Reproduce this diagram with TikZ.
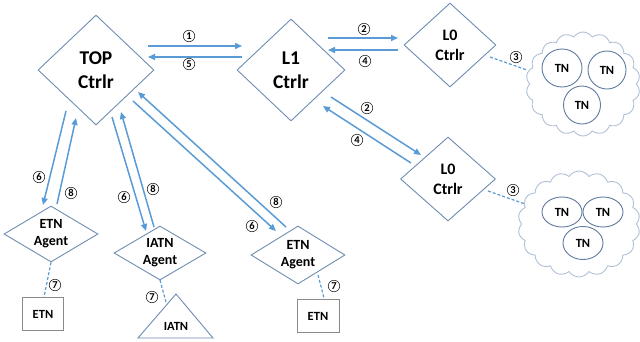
\documentclass[tikz,border=0pt]{standalone}
\usepackage{fontspec}
\setmainfont{Carlito}
\usetikzlibrary{shapes.geometric,shapes.symbols,arrows.meta}
\definecolor{diaC}{HTML}{6E8CB0}
\definecolor{arrC}{HTML}{5B9BD5}
\definecolor{cldC}{HTML}{B0C0D4}
\definecolor{ellC}{HTML}{5E7A9E}
\definecolor{boxC}{HTML}{8A8A8A}
\tikzset{
  dia/.style={diamond, draw=diaC, line width=0.9pt, inner sep=0pt, align=center},
  bigf/.style={font=\bfseries\fontsize{19.5}{24}\selectfont},
  midf/.style={font=\bfseries\fontsize{16}{20}\selectfont},
  agf/.style={font=\bfseries\fontsize{14}{17}\selectfont},
  smf/.style={font=\bfseries\fontsize{12.5}{14}\selectfont},
  arrow/.style={draw=arrC, line width=1.5pt, -{Triangle[length=7pt,width=6pt]}},
  dashln/.style={draw=arrC, line width=1.2pt, dash pattern=on 3pt off 2pt},
  num/.style={circle, draw=black!85, line width=0.6pt, minimum size=11.5pt, inner sep=0pt, font=\bfseries\fontsize{10.5}{10.5}\selectfont},
  tn/.style={ellipse, draw=ellC, line width=0.9pt, inner sep=0pt, smf},
  cld/.style={cloud, draw=cldC, line width=0.9pt, cloud puffs=18, cloud puff arc=115, cloud ignores aspect, inner sep=0pt},
  boxn/.style={rectangle, draw=boxC, line width=1pt, inner sep=0pt, smf}
}
\begin{document}
\begin{tikzpicture}[x=1pt,y=-1pt]
\useasboundingbox (0,0) rectangle (640,341);
% controllers
\node[dia, bigf, minimum width=116, minimum height=110, aspect=1.05] (top) at (96,70) {TOP\\Ctrlr};
\node[dia, bigf, minimum width=108, minimum height=102, aspect=1.06] (l1) at (291,70) {L1\\Ctrlr};
\node[dia, midf, minimum width=92, minimum height=84, aspect=1.1] (l0a) at (450,45) {L0\\Ctrlr};
\node[dia, midf, minimum width=95, minimum height=84, aspect=1.13] (l0b) at (448,179) {L0\\Ctrlr};
% agents
\node[dia, agf, minimum width=94, minimum height=56, aspect=1.68] (agL) at (51,234) {ETN\\Agent};
\node[dia, agf, minimum width=92, minimum height=54, aspect=1.7] (agI) at (160,253) {IATN\\Agent};
\node[dia, agf, minimum width=94, minimum height=58, aspect=1.62] (agR) at (298,255) {ETN\\Agent};
% end nodes
\node[boxn, minimum width=41, minimum height=33] (etnL) at (43,314) {ETN};
\node[boxn, minimum width=42, minimum height=33] (etnR) at (318,316) {ETN};
\coordinate (triA) at (176,294);
\coordinate (triB) at (138,338);
\coordinate (triC) at (213,338);
\draw[draw=diaC, line width=0.9pt] (triB) -- (triA) -- (triC) -- cycle;
\node[smf, inner sep=0pt] (iatn) at (176,326) {IATN};
% clouds
\node[cld, minimum width=114, minimum height=104] (c1) at (583,84) {};
\node[tn, minimum width=40, minimum height=38] (tn1) at (562,68) {TN};
\node[tn, minimum width=38, minimum height=38] (tn2) at (607,70) {TN};
\node[tn, minimum width=37, minimum height=38] (tn3) at (582,105) {TN};
\node[cld, minimum width=122, minimum height=106] (c2) at (579,224) {};
\node[tn, minimum width=40, minimum height=30] (tn4) at (562,212) {TN};
\node[tn, minimum width=40, minimum height=30] (tn5) at (603,212) {TN};
\node[tn, minimum width=40, minimum height=33] (tn6) at (583,243) {TN};
% arrow end coordinates
\coordinate (a1s) at (148,46); \coordinate (a1e) at (242,46);
\coordinate (a5s) at (242,57); \coordinate (a5e) at (148,57);
\coordinate (a2s) at (328,38); \coordinate (a2e) at (398,38);
\coordinate (a4s) at (398,50); \coordinate (a4e) at (328,50);
\coordinate (b2s) at (331,97); \coordinate (b2e) at (421,155);
\coordinate (b4s) at (411,163); \coordinate (b4e) at (323,106);
\coordinate (l6s) at (66,111); \coordinate (l6e) at (43,205);
\coordinate (l8s) at (57,204); \coordinate (l8e) at (76,118);
\coordinate (i6s) at (112,117); \coordinate (i6e) at (146,231);
\coordinate (i8s) at (154,227); \coordinate (i8e) at (121,112);
\coordinate (r6s) at (133,101); \coordinate (r6e) at (276,231);
\coordinate (r8s) at (286,227); \coordinate (r8e) at (138,92);
\coordinate (d3as) at (490,57); \coordinate (d3ae) at (527,70);
\coordinate (d3bs) at (488,191); \coordinate (d3be) at (525,204);
\coordinate (d7is) at (160,280); \coordinate (d7ie) at (166,302);
\coordinate (d7rs) at (318,275); \coordinate (d7re) at (324,298);
% arrows
\draw[arrow] (a1s) -- (a1e);
\draw[arrow] (a5s) -- (a5e);
\draw[arrow] (a2s) -- (a2e);
\draw[arrow] (a4s) -- (a4e);
\draw[arrow] (b2s) -- (b2e);
\draw[arrow] (b4s) -- (b4e);
\draw[arrow] (l6s) -- (l6e);
\draw[arrow] (l8s) -- (l8e);
\draw[arrow] (i6s) -- (i6e);
\draw[arrow] (i8s) -- (i8e);
\draw[arrow] (r6s) -- (r6e);
\draw[arrow] (r8s) -- (r8e);
% dashed
\draw[dashln] (d3as) -- (d3ae);
\draw[dashln] (d3bs) -- (d3be);
\draw[dashln] (agL.south) -- ([xshift=1pt]etnL.north);
\draw[dashln] (d7is) -- (d7ie);
\draw[dashln] (d7rs) -- (d7re);
% labels
\node[num] (n1) at (189,36) {1};
\node[num] (n5) at (189,64) {5};
\node[num] (n2a) at (364,29) {2};
\node[num] (n4a) at (365,61) {4};
\node[num] (n2b) at (367,108) {2};
\node[num] (n4b) at (357,140) {4};
\node[num] (n3a) at (516,57) {3};
\node[num] (n3b) at (513,190) {3};
\node[num] (n6l) at (39,177) {6};
\node[num] (n8l) at (71,193) {8};
\node[num] (n6i) at (124,197) {6};
\node[num] (n8i) at (153,189) {8};
\node[num] (n8r) at (276,202) {8};
\node[num] (n6r) at (252,226) {6};
\node[num] (n7l) at (55,285) {7};
\node[num] (n7i) at (152,297) {7};
\node[num] (n7r) at (334,286) {7};
\end{tikzpicture}
\end{document}
